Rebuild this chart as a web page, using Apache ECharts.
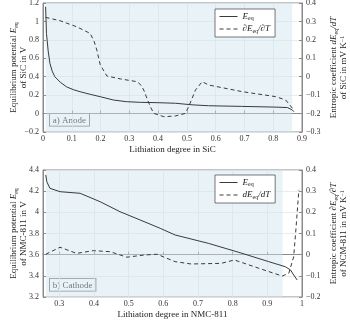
<!DOCTYPE html>
<html>
<head>
<meta charset="utf-8">
<script src="https://cdn.jsdelivr.net/npm/echarts@6/dist/echarts.min.js"></script>
<style>
  html, body { margin: 0; padding: 0; background: #fff; }
  #chart { width: 350px; height: 321px; }
</style>
</head>
<body>
<div id="chart"></div>
<script>
// anode (SiC)
var anodeX = [0.009, 0.012, 0.018, 0.024, 0.032, 0.041, 0.06, 0.082, 0.105, 0.129, 0.164, 0.199, 0.245, 0.29, 0.338, 0.4, 0.46, 0.518, 0.575, 0.69, 0.81, 0.85, 0.866, 0.872]
var anodeE = [1.16, 0.87, 0.68, 0.545, 0.46, 0.40, 0.34, 0.29, 0.26, 0.237, 0.209, 0.183, 0.147, 0.129, 0.122, 0.118, 0.112, 0.095, 0.085, 0.078, 0.07, 0.065, 0.04, 0.02]
var anodeDX = [0.009, 0.059, 0.117, 0.164, 0.178, 0.187, 0.199, 0.222, 0.269, 0.327, 0.34, 0.35, 0.362, 0.373, 0.385, 0.42, 0.46, 0.495, 0.506, 0.53, 0.553, 0.576, 0.692, 0.808, 0.843, 0.872]
var anodeDS = [0.322, 0.304, 0.271, 0.235, 0.19, 0.145, 0.064, 0.004, -0.012, -0.027, -0.045, -0.072, -0.12, -0.163, -0.199, -0.217, -0.213, -0.199, -0.163, -0.072, -0.027, -0.045, -0.081, -0.108, -0.126, -0.181]

// cathode (NMC-811)
var cathX = [0.261, 0.264, 0.273, 0.302, 0.36, 0.418, 0.475, 0.533, 0.591, 0.634, 0.73, 0.827, 0.904, 0.952, 0.967, 0.976, 0.986]
var cathE = [4.353, 4.289, 4.227, 4.195, 4.18, 4.10, 4.006, 3.928, 3.849, 3.786, 3.707, 3.613, 3.534, 3.486, 3.455, 3.408, 3.361]
var cathDX = [0.261, 0.302, 0.35, 0.398, 0.447, 0.495, 0.543, 0.582, 0.634, 0.68, 0.767, 0.805, 0.875, 0.943, 0.962, 0.976, 0.983, 0.991]
var cathDS = [0.002, 0.035, 0.006, 0.019, 0.014, -0.012, -0.002, 0.002, -0.033, -0.044, -0.041, -0.025, -0.064, -0.101, -0.088, -0.01, 0.132, 0.306]

var anodeShade = [0.009, 0.866]
var cathShade = [0.261, 0.944]
var cathTicks = [0.3, 0.4, 0.5, 0.6, 0.7, 0.8, 0.9, 1]

function pairs(xs, ys) {
  return xs.map(function (x, i) { return [x, ys[i]] })
}

var FONT = '"Liberation Serif", "DejaVu Serif", serif'
var ink = '#333'
var frame = '#8a8a8a'
var rich = {
  t: { fontFamily: FONT, fontSize: 9, color: '#222' },
  i: { fontFamily: FONT, fontSize: 9, fontStyle: 'italic', color: '#222' },
  s: { fontFamily: FONT, fontSize: 6, color: '#222', padding: [4, 0, 0, 0] },
  sup: { fontFamily: FONT, fontSize: 6, color: '#222', padding: [0, 0, 4, 0] }
}

function fmt(v) {
  var s = String(Math.round(v * 100) / 100)
  return s.replace('-', '\u2212')
}

function xAxis(idx, min, max, name, custom) {
  var a = {
    type: 'value', gridIndex: idx, min: min, max: max,
    name: name, nameLocation: 'middle', nameGap: 13, nameMoveOverlap: false,
    nameTextStyle: { fontFamily: FONT, fontSize: 9, color: '#222' },
    axisLine: { show: true, lineStyle: { color: frame } },
    axisTick: { show: true, inside: true, length: 3, lineStyle: { color: frame } },
    axisLabel: { fontFamily: FONT, fontSize: 8, color: ink, margin: 3, formatter: fmt },
    splitLine: { show: true, lineStyle: { color: '#e3e8ec', width: 0.8 } }
  }
  if (custom) {
    a.axisTick.customValues = custom
    a.axisLabel.customValues = custom
  } else {
    a.interval = 0.1
  }
  return a
}

function yAxis(idx, pos, min, max, step, name, gap) {
  return {
    type: 'value', gridIndex: idx, position: pos, min: min, max: max, interval: step,
    name: name, nameLocation: 'middle', nameGap: gap, nameRotate: 90, nameMoveOverlap: false,
    nameTextStyle: { rich: rich, lineHeight: 10 },
    axisLine: { show: true, lineStyle: { color: frame } },
    axisTick: { show: true, inside: true, length: 3, lineStyle: { color: frame } },
    axisLabel: { fontFamily: FONT, fontSize: 8, color: ink, margin: 4, formatter: fmt },
    splitLine: { show: pos === 'left', lineStyle: { color: '#e3e8ec', width: 0.8 } }
  }
}

function shade(range) {
  return {
    silent: true,
    itemStyle: { color: 'rgba(205,226,238,0.45)' },
    data: [[{ xAxis: range[0] }, { xAxis: range[1] }]]
  }
}

function legendText(name) {
  if (name === 'Eeq') return '{i|E}{s|eq}'
  if (name === 'dEdT') return '{i|\u2202E}{s|eq}{i|/\u2202T}'
  return '{i|dE}{s|eq}{i|/dT}'
}

function legendBox(top, names) {
  return {
    data: names,
    orient: 'vertical', left: 215, top: top,
    itemWidth: 18, itemHeight: 8, itemGap: 3,
    padding: [3, 5, 3, 4],
    backgroundColor: '#fff', borderColor: '#555', borderWidth: 0.8,
    itemStyle: { opacity: 0 },
    lineStyle: { width: 1 },
    formatter: legendText,
    textStyle: { rich: rich }
  }
}

var lineCol = '#3a3a3a'
var chart = echarts.init(document.getElementById('chart'))
chart.setOption({
  animation: false,
  grid: [
    { left: 43, right: 48, top: 3, height: 129, outerBoundsMode: 'none', show: true, borderColor: frame, borderWidth: 1, backgroundColor: 'transparent' },
    { left: 43, right: 48, top: 170, height: 127, outerBoundsMode: 'none', show: true, borderColor: frame, borderWidth: 1, backgroundColor: 'transparent' }
  ],
  legend: [legendBox(9, ['Eeq', 'dEdT']), legendBox(175, ['Eeq', 'dEdT2'])],
  xAxis: [
    xAxis(0, 0, 0.9, 'Lithiation degree in SiC'),
    xAxis(1, 0.253, 1, 'Lithiation degree in NMC-811', cathTicks)
  ],
  yAxis: [
    yAxis(0, 'left', -0.2, 1.2, 0.2, '{t|Equilibrium potential }{i|E}{s|eq}\n{t|of SiC in V}', 14),
    yAxis(0, 'right', -0.3, 0.4, 0.1, '{t|Entropic coefficient }{i|dE}{s|eq}{i|/dT}\n{t|of SiC in mV K}{sup|\u22121}', 27),
    yAxis(1, 'left', 3.2, 4.4, 0.2, '{t|Equilibrium potential }{i|E}{s|eq}\n{t|of NMC-811 in V}', 14),
    yAxis(1, 'right', -0.2, 0.4, 0.1, '{t|Entropic coefficient }{i|\u2202E}{s|eq}{i|/\u2202T}\n{t|of NCM-811 in mV K}{sup|\u22121}', 27)
  ],
  series: [
    {
      name: 'Eeq', type: 'line', xAxisIndex: 0, yAxisIndex: 0, symbol: 'none',
      lineStyle: { color: lineCol, width: 1 }, itemStyle: { color: lineCol },
      data: pairs(anodeX, anodeE), markArea: shade(anodeShade)
    },
    {
      name: 'dEdT', type: 'line', xAxisIndex: 0, yAxisIndex: 1, symbol: 'none',
      lineStyle: { color: lineCol, width: 1, type: [4, 3] }, itemStyle: { color: lineCol },
      data: pairs(anodeDX, anodeDS)
    },
    {
      name: 'Eeq', type: 'line', xAxisIndex: 1, yAxisIndex: 2, symbol: 'none',
      lineStyle: { color: lineCol, width: 1 }, itemStyle: { color: lineCol },
      data: pairs(cathX, cathE), markArea: shade(cathShade)
    },
    {
      name: 'dEdT2', type: 'line', xAxisIndex: 1, yAxisIndex: 3, symbol: 'none',
      lineStyle: { color: lineCol, width: 1, type: [4, 3] }, itemStyle: { color: lineCol },
      data: pairs(cathDX, cathDS)
    }
  ],
  graphic: [
    {
      type: 'text', left: 49, top: 113,
      style: { text: 'a) Anode', font: '9px ' + FONT, fill: '#222', backgroundColor: '#fff', borderColor: '#555', borderWidth: 0.8, padding: [2, 3, 1, 3] }
    },
    {
      type: 'text', left: 49, top: 278,
      style: { text: 'b) Cathode', font: '9px ' + FONT, fill: '#222', backgroundColor: '#fff', borderColor: '#555', borderWidth: 0.8, padding: [2, 3, 1, 3] }
    }
  ]
})
</script>
</body>
</html>
